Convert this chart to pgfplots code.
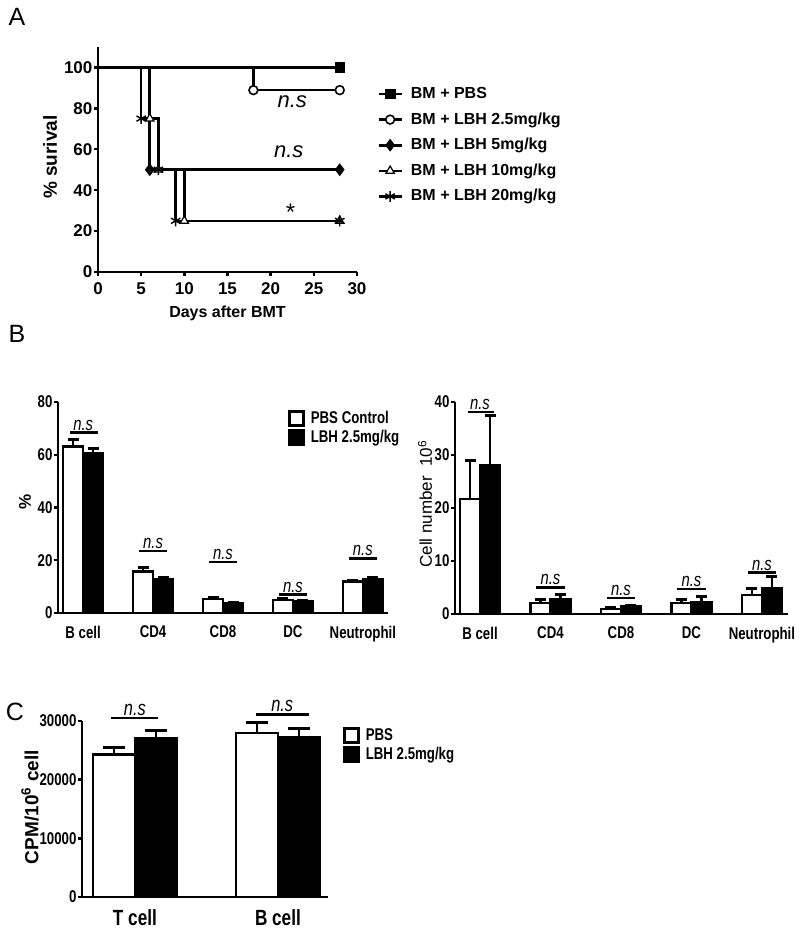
\documentclass[border=0pt]{standalone}
\usepackage{fontspec}
\setmainfont{Liberation Sans}
\newfontfamily\nar[FakeStretch=0.78]{Liberation Sans}
\usepackage{pgfplots}
\pgfplotsset{compat=1.18}

\pgfplotsset{
  prism/.style={
    scale only axis,
    axis lines=left,
    axis line style={-, line width=1.3pt},
    tick align=outside,
    major tick length=2pt,
    every tick/.style={black, line width=1.2pt},
    clip=false,
    /pgf/number format/assume math mode=true,
    yticklabel style={inner xsep=0.6pt},
  },
  errb/.style={
    error bars/.cd,
      y dir=plus, y explicit,
      error bar style={line width=1.2pt, black},
      error mark options={rotate=90, mark size=#1, line width=1.5pt, black},
  },
  nsline/.style={black, line width=1.4pt, forget plot},
}

\begin{document}
\begin{tikzpicture}[x=1pt,y=1pt]
\useasboundingbox (0,0) rectangle (400,468);

% panel letters
\node[font=\fontsize{12.5}{13}\selectfont] at (8.5,459.5) {A};
\node[font=\fontsize{12.5}{13}\selectfont] at (8.5,301) {B};
\node[font=\fontsize{12.5}{13}\selectfont] at (7.5,112) {C};

% ---------- A: survival ----------
\begin{axis}[prism,
  at={(49pt,332pt)}, anchor=south west,
  width=129.5pt, height=112.5pt,
  xmin=0, xmax=30, ymin=0, ymax=110,
  xtick={0,5,...,30}, ytick={0,20,...,100},
  tick label style={font=\bfseries\fontsize{8.5}{9}\selectfont},
  xlabel={Days after BMT},
  xlabel style={font=\bfseries\fontsize{8}{9}\selectfont,
    at={(axis description cs:0.5,-0.182)}, anchor=center},
  ylabel={\% surival},
  ylabel style={font=\bfseries\fontsize{9.5}{10}\selectfont,
    at={(axis description cs:-0.185,0.511)}, anchor=center},
  legend style={at={(axis description cs:1.077,0.835)}, anchor=north west,
    draw=none, fill=none, inner sep=0pt, column sep=3pt,
    font=\bfseries\fontsize{8}{9}\selectfont, row sep=3.3pt,
    nodes={inner sep=1pt, text height=6pt, text depth=1.5pt}},
  legend cell align=left,
]
% step lines
\addplot[const plot, black, line width=1.3pt, forget plot] coordinates {(0,100) (28,100)};
\addplot[const plot, black, line width=1.3pt, forget plot] coordinates {(0,100) (18,88.9) (28,88.9)};
\addplot[const plot, black, line width=1.3pt, forget plot] coordinates {(0,100) (6,50) (28,50)};
\addplot[const plot, black, line width=1.3pt, forget plot] coordinates {(0,100) (6,75) (7,50) (10,25) (28,25)};
\addplot[const plot, black, line width=1.3pt, forget plot] coordinates {(0,100) (5,75) (7,50) (9,25) (28,25)};
% marks at events
\addplot[only marks, mark=square*, mark size=2.4pt, black, forget plot] coordinates {(28,100)};
\addplot[only marks, mark=*, mark size=2.2pt, black, mark options={fill=white, line width=0.8pt}, forget plot] coordinates {(18,88.9) (28,88.9)};
\addplot[only marks, mark=diamond*, mark size=2.9pt, black, forget plot] coordinates {(6,50) (28,50)};
\addplot[only marks, mark=triangle*, mark size=2.4pt, black, mark options={fill=white, line width=0.6pt}, forget plot] coordinates {(6,75) (7,50) (10,25) (28,25)};
\addplot[only marks, mark=asterisk, mark size=2.7pt, black, mark options={line width=0.7pt}, forget plot] coordinates {(5,75) (7,50) (9,25) (28,25)};

\addlegendimage{legend image code/.code={\draw[line width=1.3pt] (0pt,0pt)--(11.5pt,0pt);
  \draw[black, mark=square*, mark size=2.4pt] plot coordinates {(5.75pt,0pt)};}}
\addlegendentry{BM + PBS}
\addlegendimage{legend image code/.code={\draw[line width=1.3pt] (0pt,0pt)--(11.5pt,0pt);
  \draw[black, mark=*, mark size=2.2pt, mark options={fill=white, line width=0.8pt}] plot coordinates {(5.75pt,0pt)};}}
\addlegendentry{BM + LBH 2.5mg/kg}
\addlegendimage{legend image code/.code={\draw[line width=1.3pt] (0pt,0pt)--(11.5pt,0pt);
  \draw[black, mark=diamond*, mark size=2.9pt] plot coordinates {(5.75pt,0pt)};}}
\addlegendentry{BM + LBH 5mg/kg}
\addlegendimage{legend image code/.code={\draw[line width=1.3pt] (0pt,0pt)--(11.5pt,0pt);
  \draw[black, mark=triangle*, mark size=2.4pt, mark options={fill=white, line width=0.6pt}] plot coordinates {(5.75pt,0pt)};}}
\addlegendentry{BM + LBH 10mg/kg}
\addlegendimage{legend image code/.code={\draw[line width=1.3pt] (0pt,0pt)--(11.5pt,0pt);
  \draw[black, mark=asterisk, mark size=2.7pt, mark options={line width=0.7pt}] plot coordinates {(5.75pt,0pt)};}}
\addlegendentry{BM + LBH 20mg/kg}

\node[font=\itshape\fontsize{11}{12}\selectfont] at (axis cs:22.5,83.3) {n.s};
\node[font=\itshape\fontsize{11}{12}\selectfont] at (axis cs:22.1,58.8) {n.s};
\node[font=\fontsize{12}{13}\selectfont] at (axis cs:22.3,29) {*};
\end{axis}

% ---------- B left: percent ----------
\begin{axis}[prism,
  at={(29pt,161.5pt)}, anchor=south west,
  width=165pt, height=105.5pt,
  xmin=-0.36, xmax=4.36, ymin=0, ymax=80,
  ytick={0,20,...,80},
  xtick={0,...,4}, xticklabels={B cell,CD4,CD8,DC,Neutrophil},
  xtick style={draw=none},
  xticklabel style={yshift=-1pt},
  tick label style={font=\nar\bfseries\fontsize{8.5}{9}\selectfont},
  ylabel={\%},
  ylabel style={font=\bfseries\fontsize{8.5}{9}\selectfont,
    at={(axis description cs:-0.1,0.526)}, anchor=center},
  legend style={at={(axis description cs:0.697,0.967)}, anchor=north west,
    draw=none, fill=none, inner sep=0pt, column sep=2pt,
    font=\nar\bfseries\fontsize{8.5}{9}\selectfont, row sep=0.5pt,
    nodes={inner sep=1pt, text height=6pt, text depth=1pt}},
  legend cell align=left,
]
\addplot[ybar, bar width=0.286, bar shift=0, fill=white, draw=black, line width=1.2pt, forget plot, errb=2.75pt]
  coordinates {(-0.143,63.2) +- (0,2.5) (0.857,15.7) +- (0,1.6) (1.857,5.2) +- (0,0.7) (2.857,5.0) +- (0,0.4) (3.857,12.0) +- (0,0.4)};
\addplot[ybar, bar width=0.286, bar shift=0, fill=black, draw=black, line width=1.2pt, forget plot, errb=2.75pt]
  coordinates {(0.143,60.4) +- (0,1.9) (1.143,12.8) +- (0,0.8) (2.143,3.8) +- (0,0.3) (3.143,4.4) +- (0,0.4) (4.143,12.8) +- (0,0.5)};

\addlegendimage{legend image code/.code={\draw[fill=white, line width=1.2pt] (0.5pt,-3.5pt) rectangle (7.5pt,3.5pt);}}
\addlegendentry{PBS Control}
\addlegendimage{legend image code/.code={\draw[fill=black, line width=1.2pt] (0.5pt,-3.5pt) rectangle (7.5pt,3.5pt);}}
\addlegendentry{LBH 2.5mg/kg}

\addplot[nsline] coordinates {(-0.19,68.3) (0.21,68.3)};
\addplot[nsline] coordinates {(0.8,23.5) (1.2,23.5)};
\addplot[nsline] coordinates {(1.8,19.3) (2.2,19.3)};
\addplot[nsline] coordinates {(2.8,6.9) (3.2,6.9)};
\addplot[nsline] coordinates {(3.8,20.7) (4.2,20.7)};
\begin{scope}[every node/.style={font=\nar\itshape\fontsize{9.5}{10}\selectfont, anchor=south, inner sep=1pt}]
\node at (axis cs:0,68.3) {n.s};
\node at (axis cs:1,23.5) {n.s};
\node at (axis cs:2,19.3) {n.s};
\node at (axis cs:3,6.9) {n.s};
\node at (axis cs:4,20.7) {n.s};
\end{scope}
\end{axis}

% ---------- B right: cell number ----------
\begin{axis}[prism,
  at={(227.5pt,161pt)}, anchor=south west,
  width=166.5pt, height=106pt,
  xmin=-0.355, xmax=4.37, ymin=0, ymax=40,
  ytick={0,10,...,40},
  xtick={0,...,4}, xticklabels={B cell,CD4,CD8,DC,Neutrophil},
  xtick style={draw=none},
  xticklabel style={yshift=-1pt},
  tick label style={font=\nar\bfseries\fontsize{8.5}{9}\selectfont},
  ylabel={Cell number\ \ 10\textsuperscript{6}},
  ylabel style={font=\fontsize{8.5}{9}\selectfont,
    at={(axis description cs:-0.09,0.52)}, anchor=center},
]
\addplot[ybar, bar width=0.284, bar shift=0, fill=white, draw=black, line width=1.2pt, forget plot, errb=2.75pt]
  coordinates {(-0.142,21.7) +- (0,7.2) (0.858,2.1) +- (0,0.7) (1.858,0.9) +- (0,0.3) (2.858,2.1) +- (0,0.7) (3.858,3.6) +- (0,1.2)};
\addplot[ybar, bar width=0.284, bar shift=0, fill=black, draw=black, line width=1.2pt, forget plot, errb=2.75pt]
  coordinates {(0.142,28.0) +- (0,9.4) (1.142,2.8) +- (0,0.8) (2.142,1.4) +- (0,0.2) (3.142,2.3) +- (0,1.0) (4.142,4.8) +- (0,2.2)};

\addplot[nsline] coordinates {(-0.17,38.1) (0.2,38.1)};
\addplot[nsline] coordinates {(0.8,5.0) (1.2,5.0)};
\addplot[nsline] coordinates {(1.8,3.0) (2.2,3.0)};
\addplot[nsline] coordinates {(2.8,4.7) (3.2,4.7)};
\addplot[nsline] coordinates {(3.8,7.8) (4.2,7.8)};
\begin{scope}[every node/.style={font=\nar\itshape\fontsize{9.5}{10}\selectfont, anchor=south, inner sep=1pt}]
\node at (axis cs:0,38.1) {n.s};
\node at (axis cs:1,5.0) {n.s};
\node at (axis cs:2,3.0) {n.s};
\node at (axis cs:3,4.7) {n.s};
\node at (axis cs:4,7.8) {n.s};
\end{scope}
\end{axis}

% ---------- C: CPM ----------
\begin{axis}[prism,
  at={(41pt,19.5pt)}, anchor=south west,
  width=123pt, height=88pt,
  xmin=-0.37, xmax=1.35, ymin=0, ymax=30000,
  ytick={0,10000,20000,30000}, yticklabels={0,10000,20000,30000},
  scaled y ticks=false,
  xtick={0,1}, xticklabels={T cell,B cell},
  xtick style={draw=none},
  xticklabel style={yshift=-0.5pt, font=\nar\bfseries\fontsize{11}{12}\selectfont},
  yticklabel style={font=\nar\bfseries\fontsize{8.5}{9}\selectfont},
  ylabel={CPM/10\textsuperscript{6} cell},
  ylabel style={font=\bfseries\fontsize{9.5}{10}\selectfont,
    at={(axis description cs:-0.211,0.511)}, anchor=center},
  legend style={at={(axis description cs:1.061,0.972)}, anchor=north west,
    draw=none, fill=none, inner sep=0pt, column sep=2pt,
    font=\nar\bfseries\fontsize{8.5}{9}\selectfont, row sep=0.5pt,
    nodes={inner sep=1pt, text height=6pt, text depth=1pt}},
  legend cell align=left,
]
\addplot[ybar, bar width=0.294, bar shift=0, fill=white, draw=black, line width=1.2pt, forget plot, errb=5.5pt]
  coordinates {(-0.147,24300) +- (0,1200) (0.853,27950) +- (0,1750)};
\addplot[ybar, bar width=0.294, bar shift=0, fill=black, draw=black, line width=1.2pt, forget plot, errb=5.5pt]
  coordinates {(0.147,27000) +- (0,1400) (1.147,27300) +- (0,1400)};

\addlegendimage{legend image code/.code={\draw[fill=white, line width=1.2pt] (0.5pt,-3.5pt) rectangle (7.5pt,3.5pt);}}
\addlegendentry{PBS}
\addlegendimage{legend image code/.code={\draw[fill=black, line width=1.2pt] (0.5pt,-3.5pt) rectangle (7.5pt,3.5pt);}}
\addlegendentry{LBH 2.5mg/kg}

\addplot[nsline] coordinates {(-0.17,30500) (0.16,30500)};
\addplot[nsline] coordinates {(0.85,31100) (1.22,31100)};
\node[font=\nar\itshape\fontsize{10.5}{11}\selectfont, anchor=south, inner sep=1pt] at (axis cs:0,30500) {n.s};
\node[font=\nar\itshape\fontsize{10.5}{11}\selectfont, anchor=south, inner sep=1pt] at (axis cs:1.03,31100) {n.s};
\end{axis}
\end{tikzpicture}
\end{document}
